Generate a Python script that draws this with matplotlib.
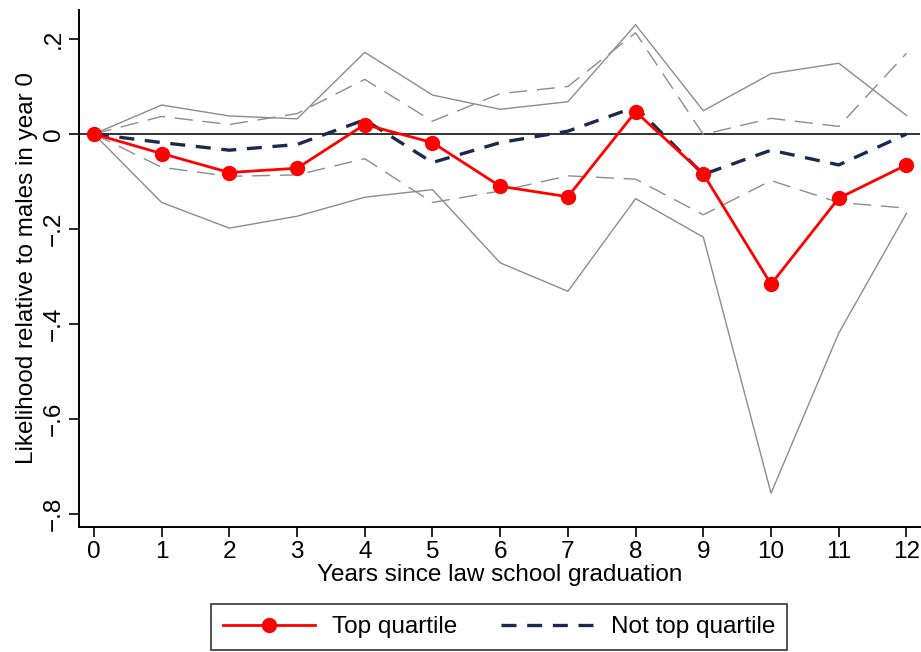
import numpy as np
import matplotlib.pyplot as plt

plt.rcParams['font.family'] = ['Liberation Sans', 'DejaVu Sans']

years = np.arange(0, 13)

# point estimates
top_q = [0, -0.041, -0.081, -0.072, 0.020, -0.018, -0.110, -0.132, 0.047, -0.084, -0.316, -0.135, -0.065]
not_top = [0, -0.018, -0.034, -0.022, 0.030, -0.060, -0.018, 0.006, 0.057, -0.085, -0.034, -0.065, 0.0]

# confidence bands
top_hi = [0, 0.061, 0.038, 0.032, 0.172, 0.082, 0.052, 0.068, 0.230, 0.049, 0.127, 0.149, 0.039]
top_lo = [0, -0.144, -0.198, -0.173, -0.133, -0.117, -0.271, -0.331, -0.136, -0.217, -0.756, -0.419, -0.167]
not_hi = [0, 0.037, 0.020, 0.043, 0.115, 0.027, 0.085, 0.100, 0.213, -0.001, 0.033, 0.016, 0.170]
not_lo = [0, -0.070, -0.089, -0.086, -0.052, -0.144, -0.120, -0.088, -0.095, -0.170, -0.098, -0.144, -0.156]

fig = plt.figure(figsize=(9.21, 6.52), dpi=100)
ax = fig.add_axes([79 / 921, 1 - 527 / 652, (920 - 79) / 921, (527 - 10) / 652])

ax.axhline(0, color='#333333', lw=1.4, zorder=1)

ax.plot(years, top_hi, color='#8c8c8c', lw=1.0, zorder=2)
ax.plot(years, top_lo, color='#8c8c8c', lw=1.0, zorder=2)
ax.plot(years, not_hi, color='#8c8c8c', lw=1.0, dashes=(13, 7), zorder=2)
ax.plot(years, not_lo, color='#8c8c8c', lw=1.0, dashes=(13, 7), zorder=2)

l1, = ax.plot(years, top_q, color='#ff0000', lw=2.0, marker='o', ms=10,
              label='Top quartile', zorder=4)
l2, = ax.plot(years, not_top, color='#1a2a4f', lw=2.4, dashes=(4.5, 3.2),
              label='Not top quartile', zorder=3)

ax.set_xlim(-0.22, 12.2)
ax.set_ylim(-0.827, 0.261)
ax.set_xticks(years)
ax.set_yticks([-0.8, -0.6, -0.4, -0.2, 0, 0.2])
ax.set_yticklabels(['\u2212.8', '\u2212.6', '\u2212.4', '\u2212.2', '0', '.2'], rotation=90, va='center')
ax.tick_params(axis='both', labelsize=17.5, length=7, width=1.2, color='black', pad=3)

for s in ['top', 'right']:
    ax.spines[s].set_visible(False)
for s in ['left', 'bottom']:
    ax.spines[s].set_linewidth(1.4)

ax.set_xlabel('Years since law school graduation', fontsize=17.5, labelpad=1)
ax.set_ylabel('Likelihood relative to males in year 0', fontsize=17.5, labelpad=4)

leg = fig.legend(handles=[l1, l2], loc='center', bbox_to_anchor=(499 / 921, 1 - 627 / 652),
                 ncol=2, fontsize=17.5, frameon=True, fancybox=False, edgecolor='black',
                 handlelength=3.8, columnspacing=1.8, borderpad=0.5, handletextpad=0.7)
leg.get_frame().set_linewidth(1.2)

fig.savefig('out.png', dpi=100)
